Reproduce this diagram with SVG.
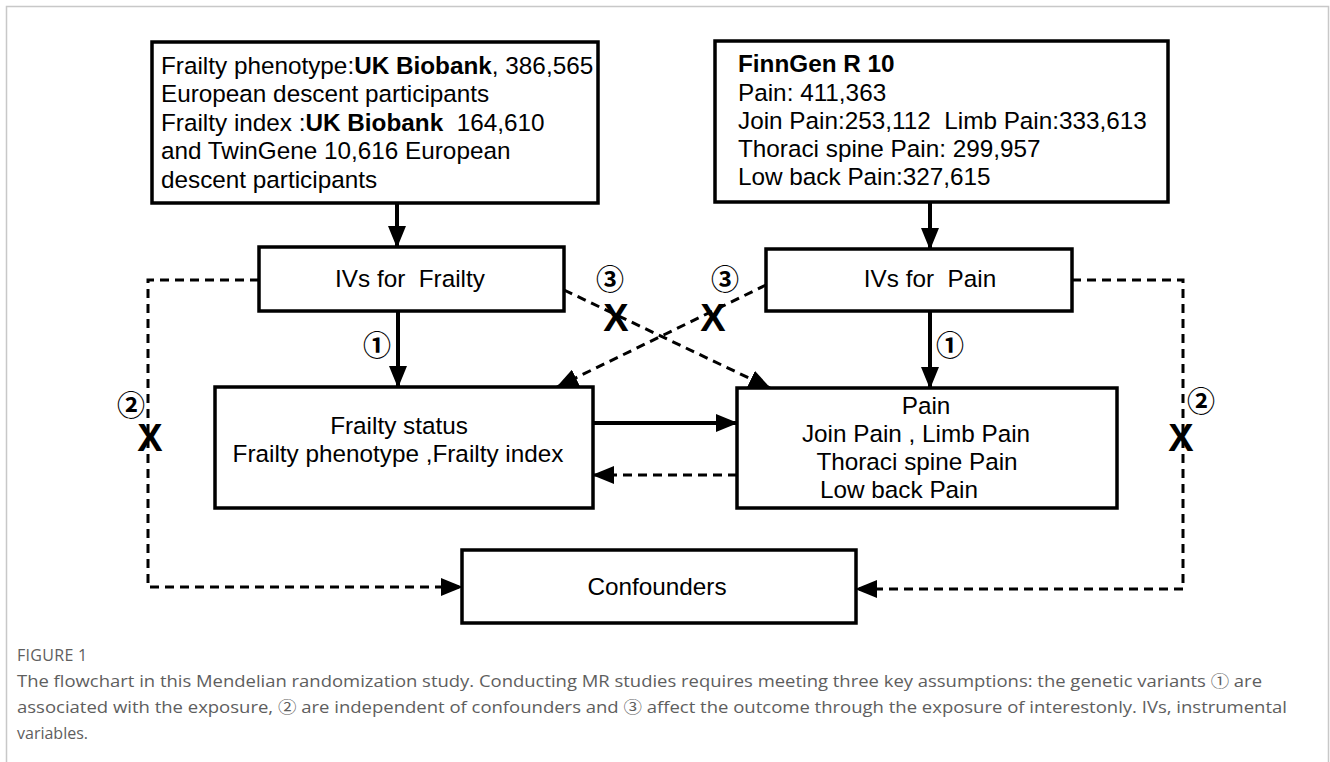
<svg xmlns="http://www.w3.org/2000/svg" width="1330" height="762" viewBox="0 0 1330 762">
<style>
.box{fill:#fff;stroke:#000;stroke-width:3.5}
.t{font-family:"Liberation Sans",Arial,sans-serif;font-size:24.3px;fill:#000}
.b{font-weight:bold}
.solid{stroke:#000;stroke-width:4;fill:none}
.dash{stroke:#000;stroke-width:3;fill:none;stroke-dasharray:9 6}
.num{font-family:"Noto Sans CJK SC","DejaVu Sans",sans-serif;font-size:28px;font-weight:bold;fill:#000}
.x{font-family:"Liberation Sans",Arial,sans-serif;font-size:38px;font-weight:bold;fill:#000}
.cap{font-family:"Open Sans","Noto Sans CJK SC",sans-serif;font-size:16px;fill:#5e5e5e}
</style>
<defs>
<marker id="ahs" markerWidth="22" markerHeight="18" refX="21" refY="9" orient="auto" markerUnits="userSpaceOnUse" viewBox="0 0 22 18">
<path d="M0,0 L22,9 L0,18 Z" fill="#000"/>
</marker>
</defs>
<rect x="0" y="0" width="1330" height="762" fill="#fff"/>
<path d="M6.5,770 V6.5 H1328.5 V770" fill="none" stroke="#c8c8c8" stroke-width="1.5"/>

<g id="connectors">
<line class="solid" x1="397" y1="203" x2="397" y2="247" marker-end="url(#ahs)"/>
<line class="solid" x1="930" y1="202" x2="930" y2="249" marker-end="url(#ahs)"/>
<line class="solid" x1="398" y1="311" x2="398" y2="387" marker-end="url(#ahs)"/>
<line class="solid" x1="930" y1="311" x2="930" y2="388" marker-end="url(#ahs)"/>
<line class="solid" x1="593" y1="423" x2="737" y2="423" marker-end="url(#ahs)"/>
<line class="dash" x1="737" y1="475" x2="593" y2="475" stroke-width="4" marker-end="url(#ahs)"/>
<line class="dash" x1="564" y1="290" x2="770" y2="388" marker-end="url(#ahs)"/>
<line class="dash" x1="766" y1="285" x2="557" y2="387" marker-end="url(#ahs)"/>
<polyline class="dash" points="259,280 148,280 148,587 462,587" marker-end="url(#ahs)"/>
<polyline class="dash" points="1072,280 1183,280 1183,589 856,589" marker-end="url(#ahs)"/>
<text class="num" x="377" y="356" text-anchor="middle">①</text>
<text class="num" x="950" y="356" text-anchor="middle">①</text>
<text class="num" x="610" y="290" text-anchor="middle">③</text>
<text class="num" x="725" y="290" text-anchor="middle">③</text>
<text class="num" x="131" y="416" text-anchor="middle">②</text>
<text class="num" x="1201" y="412" text-anchor="middle">②</text>
<text class="x" x="616" y="331" text-anchor="middle">X</text>
<text class="x" x="713" y="331" text-anchor="middle">X</text>
<text class="x" x="150" y="451" text-anchor="middle">X</text>
<text class="x" x="1181" y="451" text-anchor="middle">X</text>
</g>

<g id="frailty-data">
<rect class="box" x="152" y="42" width="446" height="161"/>
<text class="t" x="161" y="74">Frailty phenotype:<tspan class="b">UK Biobank</tspan>, 386,565</text>
<text class="t" x="161" y="102">European descent participants</text>
<text class="t" x="161" y="131" xml:space="preserve">Frailty index :<tspan class="b">UK Biobank</tspan>  164,610</text>
<text class="t" x="161" y="159">and TwinGene 10,616 European</text>
<text class="t" x="161" y="188">descent participants</text>
</g>

<g id="finngen-data">
<rect class="box" x="715" y="41" width="453" height="161"/>
<text class="t b" x="738" y="72">FinnGen R 10</text>
<text class="t" x="738" y="101">Pain: 411,363</text>
<text class="t" x="738" y="129" xml:space="preserve">Join Pain:253,112  Limb Pain:333,613</text>
<text class="t" x="738" y="157">Thoraci spine Pain: 299,957</text>
<text class="t" x="738" y="185">Low back Pain:327,615</text>
</g>

<g id="ivs-frailty">
<rect class="box" x="259" y="247" width="305" height="64"/>
<text class="t" x="410" y="287" text-anchor="middle" xml:space="preserve">IVs for  Frailty</text>
</g>

<g id="ivs-pain">
<rect class="box" x="766" y="249" width="306" height="62"/>
<text class="t" x="930" y="287" text-anchor="middle" xml:space="preserve">IVs for  Pain</text>
</g>

<g id="frailty-status">
<rect class="box" x="215" y="387" width="378" height="121"/>
<text class="t" x="399" y="434" text-anchor="middle">Frailty status</text>
<text class="t" x="398" y="462" text-anchor="middle">Frailty phenotype ,Frailty index</text>
</g>

<g id="pain">
<rect class="box" x="737" y="388" width="380" height="120"/>
<text class="t" x="926" y="414" text-anchor="middle">Pain</text>
<text class="t" x="916" y="442" text-anchor="middle">Join Pain , Limb Pain</text>
<text class="t" x="917" y="470" text-anchor="middle">Thoraci spine Pain</text>
<text class="t" x="820" y="498">Low back Pain</text>
</g>

<g id="confounders">
<rect class="box" x="462" y="550" width="394" height="73"/>
<text class="t" x="657" y="595" text-anchor="middle">Confounders</text>
</g>

<g id="caption">
<text class="cap" x="17" y="661" font-size="12" letter-spacing="0.3" fill="#666">FIGURE 1</text>
<text class="cap" x="17" y="687" textLength="1245" lengthAdjust="spacingAndGlyphs">The flowchart in this Mendelian randomization study. Conducting MR studies requires meeting three key assumptions: the genetic variants ① are</text>
<text class="cap" x="17" y="713" textLength="1270" lengthAdjust="spacingAndGlyphs">associated with the exposure, ② are independent of confounders and ③ affect the outcome through the exposure of interestonly. IVs, instrumental</text>
<text class="cap" x="17" y="739">variables.</text>
</g>
</svg>
